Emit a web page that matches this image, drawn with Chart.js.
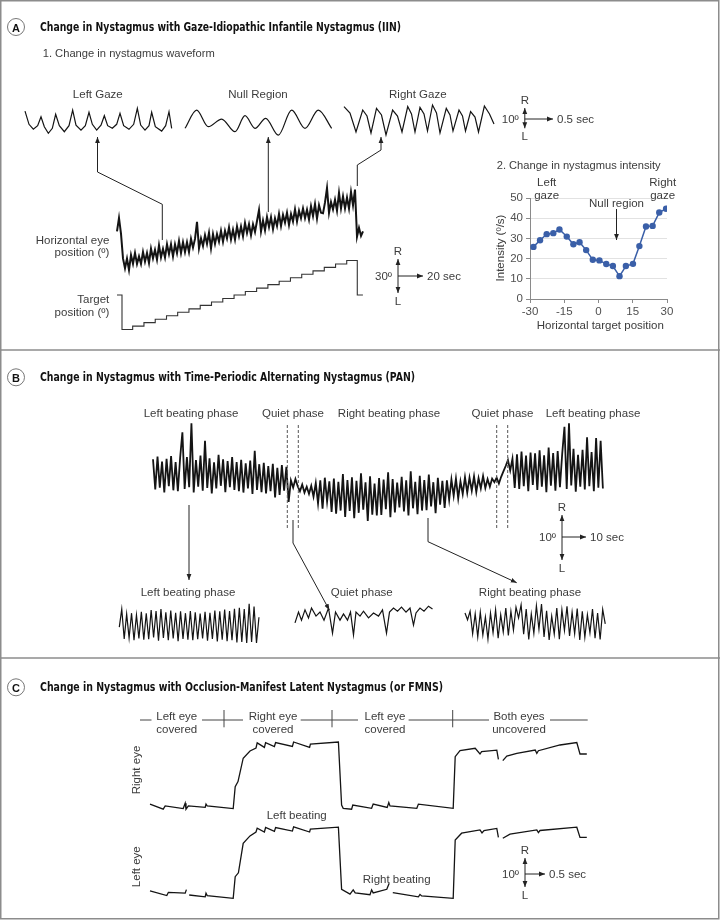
<!DOCTYPE html>
<html>
<head>
<meta charset="utf-8">
<title>Nystagmus waveforms</title>
<script src="https://cdn.jsdelivr.net/npm/chart.js@4.4.1/dist/chart.umd.min.js"></script>
<style>
  html, body { margin: 0; background: #fff; }
  #fig { position: relative; width: 720px; height: 920px; overflow: hidden; background: #fff; }
  #fig canvas { position: absolute; z-index: 1; }
  #overlay { position: absolute; left: 0; top: 0; z-index: 2; pointer-events: none; }
</style>
</head>
<body>
<div id="fig"><svg id="overlay" width="720" height="920"></svg></div>
<script>
// ---- Panel A.1: short waveform snippets (time s, eye position deg) ----
const leftGazeT = [0, 0.072, 0.15, 0.228, 0.288, 0.348, 0.42, 0.492, 0.552, 0.618, 0.708, 0.792, 0.858, 0.918, 1.008, 1.086, 1.152, 1.212, 1.29, 1.368, 1.428, 1.488, 1.572, 1.65, 1.71, 1.776, 1.872, 1.956, 2.022, 2.082, 2.16, 2.232, 2.28, 2.346, 2.46, 2.532, 2.592, 2.64];
const leftGazeV = [5.3, -1.3, -3.7, -2, 2.5, -2.5, -5.8, -3.3, 3.7, -2, -5, -2, 5.8, -1.7, -4.2, -2, 4.7, -1.3, -4.2, -1.7, 3, -2, -3.3, -1.3, 4.2, -2, -3.8, -1.3, 6.7, -1.7, -4.2, -2, 4.7, -2.5, -4.7, -2, 5, -3.3];
const nullRegionT = [0, 0.21, 0.42, 0.66, 0.9, 1.08, 1.26, 1.452, 1.68, 1.92, 2.16, 2.4, 2.64];
const nullRegionV = [-3.3, 5.8, -2.5, 1.3, -5, 3, -3.3, 1.7, -6.7, 5.8, -3.3, 5.8, -3.3];
const rightGazeT = [0, 0.108, 0.216, 0.337, 0.414, 0.486, 0.585, 0.675, 0.756, 0.875, 0.963, 1.044, 1.147, 1.215, 1.278, 1.368, 1.44, 1.503, 1.593, 1.665, 1.728, 1.841, 1.908, 1.962, 2.07, 2.133, 2.187, 2.279, 2.358, 2.421, 2.527, 2.619, 2.7];
const rightGazeV = [6.7, 3.5, -6, 5, 2, -6.5, 5.8, 2.5, -7.5, 5, 2, -6, 6.7, 3, -6, 6.3, 3, -5.5, 7.5, 3.5, -6.5, 5.8, 2.5, -5.5, 5, 2, -5.5, 4.2, 1.5, -6, 7, 3, -2];

// ---- Panel A: horizontal eye position (sampled, deg) and target steps ----
const eyeStartSec = 5.83;
const eyeStepSec = 1.667;
const eyePosition = [
  -2.0, 9.6, -4.0,
  -25.6, -34.1, -25.7, -35.6, -22.7, -30.2, -20.8, -30.3, -23.8, -30.3,
  -19.9, -28.4, -20.9, -29.5, -17.0, -25.5, -18.1, -26.6, -14.1, -24.6,
  -17.2, -24.7, -13.2, -21.8, -13.3, -23.8, -13.4, -20.9, -10.4, -20.9,
  -11.5, -20.0, -11.5, -20.1, -8.6, -16.1, -8.6, 6.3, -16.7, -8.2,
  -14.7, -5.3, -12.8, -3.3, -16.8, -4.4, -12.9, -4.4, -11.0, -1.5,
  -11.0, -1.5, -8.1, 1.4, -9.1, -0.6, -9.2, 2.3, -6.2, 2.2,
  -6.3, 5.2, -3.4, 4.1, -5.4, 4.1, -2.5, 7.0, 16.5, -2.1,
  7.4, -1.1, 10.4, 1.8, 10.3, -0.2, 9.3, 2.7, 13.2, 2.7,
  12.2, 5.6, 14.1, 3.6, 13.0, 6.5, 17.0, 6.5, 15.9, 9.4,
  17.9, 9.4, 16.8, 8.3, 19.8, 11.3, 21.7, 9.2, 20.7, 14.1,
  13.6, 23.1, 35.6, 14.0, 23.5, 17.0, 25.4, 15.9, 31.4, 17.9,
  28.3, 17.8, 27.3, 17.7, 32.2, 20.7, 34.2,
  -6.7, 1.0, -6.0, -2.0
];
const targetT = [5.8, 10.0, 18.9, 28.3, 37.7, 47.1, 56.4, 65.8, 75.2, 84.6, 94.0, 103.4, 112.8, 122.2, 131.6, 141.0, 150.4, 159.8, 169.2, 178.6, 188.0, 197.3, 206.1, 210.8];
const targetV = [0, -30, -27, -24, -21, -18, -15, -12, -9, -6, -3, 0, 3, 6, 9, 12, 15, 18, 21, 24, 27, 30, 0, 0];

// ---- Panel A.2: nystagmus intensity ----
const intensityX = [-28.5, -25.6, -22.7, -19.8, -17.1, -13.9, -11.0, -8.3, -5.4, -2.5, 0.4, 3.4, 6.3, 9.2, 12.0, 15.1, 17.9, 20.8, 23.7, 26.6, 29.6];
const intensityY = [25.8, 29.1, 32.1, 32.6, 34.4, 30.9, 27.1, 28.1, 24.2, 19.4, 19.1, 17.3, 16.3, 11.3, 16.3, 17.4, 26.2, 35.9, 36.2, 42.8, 44.7];
const intensityXTicks = [-30, -15, 0, 15, 30];
const intensityYTicks = [0, 10, 20, 30, 40, 50];

// ---- Panel B: PAN recording (sampled, deg) ----
const panStartSec = 1.25;
const panStepSec = 0.942;
const panTrace = [
  3.5, -3.2, 4.1, -2.8, 3.0, -3.9, 3.6, -2.5, 4.2, -3.4,
  2.9, -3.6, 3.8, 9.5, -3.1, 4.0, -2.7, 11.5, -3.9, 3.3,
  -2.6, 4.3, -3.5, 7.6, -2.9, 3.7, -4.1, 2.8, -3.0, 4.5,
  -2.4, 3.5, -3.8, 3.1, -2.7, 4.0, -3.3, 2.9, -3.6, 3.4,
  -3.9, 2.6, -3.0, 3.2, -4.2, 5.4, -3.3, 2.4, -3.8, 2.7,
  -4.1, 2.0, -3.6, 2.5, -5.0, 1.6, -4.4, 2.2, -3.5, 1.8,
  -6.0, -1.2, -2.8, -0.9, -2.5, -3.6, -2.1, -3.9, -2.6, -4.2,
  -2.4, -4.8, -1.8, -6.3, -1.2, -7.5, -0.6, -5.9, -1.4, -8.2,
  -0.8, -8.6, -1.5, -7.9, 0.2, -9.3, -1.1, -8.0, -0.5, -9.6,
  -1.3, -8.4, 0.4, -7.7, -1.6, -10.2, -0.3, -8.8, -1.9, -9.0,
  -0.7, -8.9, -1.0, -7.6, 0.6, -9.4, -0.9, -8.3, -1.7, -7.2,
  -0.4, -8.1, -1.2, -9.0, 0.8, -7.4, -1.5, -8.7, -0.2, -7.9,
  -1.1, -7.8, 0.1, -7.0, -1.6, -8.5, -0.6, -6.6, -1.3, -7.3,
  -1.2, -5.5, -1.0, -4.6, -0.8, -5.2, -1.4, -4.2, -0.5, -3.9,
  -0.6, -3.5, -0.3, -3.8, -0.7, -3.0, -0.2, -2.9, -0.9, -2.6,
  -0.8, -1.6, -0.6, -1.9, -0.4, 0.8, 2.0, 3.3, 1.0, 3.6,
  -2.9, 4.6, -3.1, 5.2, -2.5, 4.3, -3.6, 5.0, -2.2, 4.8,
  -3.3, 5.5, -2.6, 4.4, -3.8, 6.1, -2.4, 4.9, -3.5, 5.3,
  -2.7, 4.7, 10.7, -3.1, 11.5, -2.3, 5.8, -3.7, 4.5, -2.6,
  5.6, -3.2, 8.4, -2.5, 5.1, -3.6, 8.2, -2.8, 7.6, -3.0
];
// expanded phases
const leftBeatStartSec = 0.086;
const leftBeatStepSec = 0.049;
const leftBeat = [-0.7, 3.3, -3.3, 2.2, -3.1, 2.4, -3.6, 2.0, -3.2, 2.7, -3.5, 2.4, -3.4, 3.1, -3.0, 2.9, -3.7, 3.3, -3.1, 2.6, -3.6, 3.0, -3.2, 2.5, -3.8, 2.8, -3.3, 2.4, -3.5, 2.9, -3.6, 2.6, -3.4, 2.3, -3.2, 2.7, -3.7, 2.5, -3.3, 3.0, -3.9, 2.8, -3.5, 3.2, -3.8, 2.9, -3.6, 3.4, -4.1, 3.6, -4.0, 3.3, -4.2, 4.5, -4.0, 3.9, -4.2, 1.5];
const quietT = [0, 0.07, 0.13, 0.2, 0.27, 0.33, 0.42, 0.5, 0.58, 0.67, 0.75, 0.81, 0.9, 0.97, 1.05, 1.11, 1.17, 1.22, 1.3, 1.37, 1.47, 1.57, 1.67, 1.75, 1.83, 1.89, 1.97, 2.05, 2.13, 2.22, 2.3, 2.37, 2.42, 2.5, 2.58, 2.67, 2.75];
const quietV = [-1.3, 1.1, -0.7, 1.6, -0.2, 2.0, 0.2, 1.1, -0.7, 2.0, -3.6, 1.1, -0.7, 0.7, -0.7, 1.1, -4.0, 1.1, 0.2, 1.3, -0.2, 0.9, 0.2, 1.6, -3.6, 1.1, 2.0, 1.3, 2.2, 1.1, 2.0, -1.8, 0.9, 2.0, 1.3, 2.4, 1.8];
const rightBeatStartSec = 0.1;
const rightBeatStepSec = 0.051;
const rightBeat = [2.0, 0.5, 2.4, -2.6, 1.8, -3.3, 2.2, -2.9, 1.1, -3.8, 2.0, -2.4, 2.7, -3.6, 1.6, -2.2, 3.1, -3.0, 2.4, -1.8, 3.3, 0.9, 3.8, -2.7, 2.9, -3.9, 1.8, -2.5, 3.6, -1.6, 4.0, -3.3, 2.5, -4.0, 1.3, -2.7, 3.1, -3.8, 2.7, -1.9, 3.5, -3.1, 2.2, -2.6, 3.0, -4.0, 2.4, -3.4, 1.6, -2.4, 2.9, -3.6, 2.0, -3.9, 2.8, -0.4];

// ---- Panel C: occlusion sequence (time s, deg; null = gap) ----
const rightEyeT = [0, 0.33, 0.38, 0.83, 0.88, 0.9, 0.96, 1.38, 1.4, 1.43, 2.08, 2.13, 2.2, 2.33, 2.5, 2.65, 2.68, 2.86, 2.89, 3.11, 3.14, 3.56, 3.59, 3.99, 4.01, 4.71, 4.79, 4.83, 5.04, 5.07, 5.54, 5.58, 5.93, 5.97, 6.0, 6.67, 6.71, 7.58, 7.63, 7.75, 8.13, 8.25, 8.29, 8.67, 8.71, 8.76, 8.82, 8.92, 9.17, 9.63, 9.67, 9.71, 10.25, 10.67, 10.75, 10.92];
const rightEyeV = [1.3, -0.4, 0.7, -0.2, 1.6, -0.4, 0.7, 0.2, 1.3, 0.7, -0.2, 7.1, 8.8, 16.6, 19, 20, 21.7, 20.2, 21.8, 20.5, 21.8, 20.5, 22, 20.2, 21.3, 22, 1, -0.1, -0.4, 1, -0.1, 1.3, 0.2, 1.8, 0.7, -0.1, 1.3, -0.1, 17.1, 19.1, 19.9, 18, 18.8, 19.3, 16.2, null, 15.8, 17.3, 18.2, 19.3, 18.2, 19.1, 21, 21.8, 18, 18];
const leftEyeT = [0, 0.42, 0.46, 0.88, 0.91, 0.94, 0.98, 1.38, 1.4, 1.43, 2.08, 2.13, 2.21, 2.33, 2.5, 2.65, 2.68, 2.86, 2.89, 3.11, 3.14, 3.56, 3.59, 3.99, 4.01, 4.71, 4.79, 5.0, 5.08, 5.13, 5.5, 5.54, 5.58, 5.92, 5.98, 6.02, 6.07, 6.71, 6.75, 6.79, 7.58, 7.63, 7.79, 8.25, 8.3, 8.35, 8.67, 8.71, 8.76, 8.82, 9.0, 9.67, 9.71, 9.75, 10.67, 10.75, 10.92];
const leftEyeV = [1.4, -0.2, 0.9, 0.6, 1.8, null, 0, -0.6, 0.6, -0.2, -1.1, 6.1, 7.4, 17.2, 19.7, 21, 22.3, 21, 22.5, 21.2, 22.5, 21.3, 22.7, 21, 22, 22.6, 1.9, 0.3, 1.7, 0.7, 0.1, 1.7, 0.7, 1.9, 3.9, null, 0.8, -0.6, 0.2, -0.3, -1.1, 18.3, 20.6, 21.7, 20.7, 21.5, 22.2, 19.2, null, 18.9, 20.3, 21.7, 20.8, 21.5, 22.6, 19.2, 19.2];

// ---------------------------------------------------------------------
const FONT = '"Liberation Sans", Arial, sans-serif';
const NARROW = '"Liberation Sans Narrow", "DejaVu Sans Condensed", Arial, sans-serif';
const INK = '#141414';
const TEXT = '#3c3c3c';
const BLUE = '#3a5fa8';

Chart.defaults.font.family = FONT;

function addChart(box, config) {
  const canvas = document.createElement('canvas');
  canvas.width = box.w;
  canvas.height = box.h;
  Object.assign(canvas.style, { left: box.x + 'px', top: box.y + 'px', width: box.w + 'px', height: box.h + 'px' });
  document.getElementById('fig').appendChild(canvas);
  config.options = Object.assign({ responsive: false, maintainAspectRatio: false, animation: false, events: [] }, config.options);
  return new Chart(canvas, config);
}

const pairs = (xs, ys) => xs.map((x, i) => ({ x, y: ys[i] }));
const sampled = (start, step, ys) => ys.map((y, i) => ({ x: start + i * step, y }));

function trace(data, yAxisID, extra) {
  return Object.assign({
    data, yAxisID: yAxisID || 'y', borderColor: INK, borderWidth: 1.2,
    pointRadius: 0, tension: 0, spanGaps: false, fill: false
  }, extra || {});
}

// chart with hidden axes; box = where the plot sits, ranges map data units onto it
// (scale ids must start with "y" so Chart.js treats them as vertical axes)
function traceChart(box, xRange, yRanges, datasets) {
  const scales = { x: { type: 'linear', axis: 'x', display: false, min: xRange[0], max: xRange[1] } };
  Object.entries(yRanges).forEach(([id, r]) => {
    scales[id] = { type: 'linear', axis: 'y', display: false, min: r[0], max: r[1] };
  });
  return addChart(box, {
    type: 'line',
    data: { datasets },
    options: {
      layout: { padding: 0 },
      plugins: { legend: { display: false }, tooltip: { enabled: false } },
      scales
    }
  });
}

// ---- Panel A charts ----
const snippetY = { y: [-11.15, 10.85] };
traceChart({ x: 20, y: 100, w: 160, h: 44 }, [-0.09, 2.79], snippetY,
  [trace(pairs(leftGazeT, leftGazeV))]);
traceChart({ x: 180, y: 100, w: 160, h: 44 }, [-0.09, 2.79], snippetY,
  [trace(pairs(nullRegionT, nullRegionV), 'y', { cubicInterpolationMode: 'monotone' })]);
traceChart({ x: 339, y: 100, w: 160, h: 44 }, [-0.09, 2.79], { y: [-12, 10] },
  [trace(pairs(rightGazeT, rightGazeV))]);

traceChart({ x: 110, y: 180, w: 260, h: 160 }, [0, 216.7],
  { yEye: [-96.5, 42.6], yTarget: [-39.1, 100] },
  [
    trace(sampled(eyeStartSec, eyeStepSec, eyePosition), 'yEye', { borderWidth: 2 }),
    trace(pairs(targetT, targetV), 'yTarget', { stepped: 'before', borderWidth: 1.1, borderColor: '#333' })
  ]);

addChart({ x: 470, y: 185, w: 210, h: 150 }, {
  type: 'line',
  data: {
    datasets: [{
      data: pairs(intensityX, intensityY),
      borderColor: BLUE, backgroundColor: BLUE, borderWidth: 1.5,
      pointRadius: 3.2, pointBorderWidth: 0, tension: 0
    }]
  },
  options: {
    layout: { padding: { left: 0, right: 13, top: 13, bottom: 14 } },
    plugins: { legend: { display: false }, tooltip: { enabled: false } },
    scales: {
      x: {
        type: 'linear', min: intensityXTicks[0], max: intensityXTicks[intensityXTicks.length - 1],
        afterFit: s => { s.height = 22; },
        afterBuildTicks: s => { s.ticks = intensityXTicks.map(v => ({ value: v })); },
        ticks: { color: '#505050', font: { size: 11.5 }, padding: 2, maxRotation: 0, autoSkip: false },
        grid: { drawOnChartArea: false, tickLength: 4, tickColor: '#8a8a8a' },
        border: { color: '#8a8a8a' }
      },
      y: {
        min: intensityYTicks[0], max: intensityYTicks[intensityYTicks.length - 1],
        afterFit: s => { s.width = 60; },
        afterBuildTicks: s => { s.ticks = intensityYTicks.map(v => ({ value: v })); },
        ticks: { color: '#505050', font: { size: 11.5 }, padding: 3 },
        grid: { color: '#e2e2e2', tickLength: 4, tickColor: '#8a8a8a' },
        border: { color: '#8a8a8a' }
      }
    }
  }
});

// ---- Panel B charts ----
traceChart({ x: 150, y: 415, w: 460, h: 125 }, [0, 191.67], { y: [-14.44, 13.33] },
  [trace(sampled(panStartSec, panStepSec, panTrace), 'y', { borderWidth: 1.8 })]);
traceChart({ x: 115, y: 595, w: 150, h: 50 }, [0, 3.0], { y: [-4.67, 6.44] },
  [trace(sampled(leftBeatStartSec, leftBeatStepSec, leftBeat))]);
traceChart({ x: 290, y: 595, w: 150, h: 50 }, [-0.1, 2.9], { y: [-6.22, 4.89] },
  [trace(pairs(quietT, quietV))]);
traceChart({ x: 460, y: 595, w: 150, h: 50 }, [0, 3.0], { y: [-5.11, 6] },
  [trace(sampled(rightBeatStartSec, rightBeatStepSec, rightBeat))]);

// ---- Panel C chart ----
traceChart({ x: 140, y: 735, w: 460, h: 175 }, [-0.25, 11.25],
  { yRightEye: [-34, 24.33], yLeftEye: [-5, 53.33] },
  [
    trace(pairs(rightEyeT, rightEyeV), 'yRightEye', { borderWidth: 1.3 }),
    trace(pairs(leftEyeT, leftEyeV), 'yLeftEye', { borderWidth: 1.3 })
  ]);

// ---- overlay: text, frames, connectors, scale bars ----
const svg = document.getElementById('overlay');
const NS = 'http://www.w3.org/2000/svg';
svg.innerHTML = '<defs><marker id="ah" viewBox="0 0 6 6" refX="6" refY="3" markerWidth="6" markerHeight="6" ' +
  'markerUnits="userSpaceOnUse" orient="auto-start-reverse"><path d="M0,0.6 L6,3 L0,5.4 z" fill="#222"/></marker></defs>';

function svgEl(tag, attrs, content) {
  const node = document.createElementNS(NS, tag);
  Object.entries(attrs).forEach(([k, v]) => { if (v !== undefined && v !== null) node.setAttribute(k, v); });
  if (content !== undefined) node.textContent = content;
  svg.appendChild(node);
  return node;
}

function label(x, y, str, o = {}) {
  return svgEl('text', {
    x, y, 'text-anchor': o.anchor || 'middle', 'dominant-baseline': 'central',
    'font-size': o.size || 11.5, 'font-family': o.family || FONT, 'font-weight': o.weight || 'normal',
    fill: o.color || TEXT,
    transform: o.rotate ? `rotate(${o.rotate} ${x} ${y})` : undefined,
    textLength: o.len, lengthAdjust: o.len ? 'spacingAndGlyphs' : undefined
  }, str);
}

function path(points, o = {}) {
  return svgEl('polyline', {
    points: points.map(p => p.join(',')).join(' '), fill: 'none',
    stroke: o.color || '#222', 'stroke-width': o.width || 1, 'stroke-dasharray': o.dash,
    'marker-end': o.end ? 'url(#ah)' : undefined, 'marker-start': o.start ? 'url(#ah)' : undefined
  });
}

function badge(x, y, letter) {
  svgEl('circle', { cx: x, cy: y, r: 8.5, fill: '#fff', stroke: '#777', 'stroke-width': 1 });
  label(x, y + 0.5, letter, { weight: 'bold', size: 11, color: '#111' });
}

function heading(y, str, len) {
  label(40, y, str, { anchor: 'start', weight: 'bold', family: NARROW, size: 12, len, color: '#111' });
}

function scaleBar(s) {
  path([[s.x, s.top], [s.x, s.bottom]], { start: true, end: true });
  path([[s.x, s.mid], [s.right, s.mid]], { end: true });
  label(s.x, s.top - 8, 'R');
  label(s.x, s.bottom + 8, 'L');
  label(s.x - 6, s.mid, s.deg, { anchor: 'end' });
  label(s.right + 4, s.mid, s.time, { anchor: 'start' });
}

// frames
svgEl('rect', { x: 0.75, y: 0.75, width: 718, height: 918, fill: 'none', stroke: '#8c8c8c', 'stroke-width': 1.5 });
path([[0, 350], [720, 350]], { color: '#8c8c8c', width: 1.5 });
path([[0, 658], [720, 658]], { color: '#8c8c8c', width: 1.5 });

// Panel A
badge(16, 27, 'A');
heading(26.7, 'Change in Nystagmus with Gaze-Idiopathic Infantile Nystagmus (IIN)', 361);
label(42.7, 53.3, '1. Change in nystagmus waveform', { anchor: 'start', len: 172 });
label(97.8, 94.3, 'Left Gaze');
label(258, 94.3, 'Null Region');
label(417.8, 94.3, 'Right Gaze');
path([[162.3, 240], [162.3, 204.3], [97.5, 172], [97.5, 137]], { end: true });
path([[268.3, 212], [268.3, 137]], { end: true });
path([[357.3, 186], [357.3, 165], [381, 150], [381, 137]], { end: true });
scaleBar({ x: 524.8, top: 108, bottom: 128.3, mid: 119, right: 553, deg: '10º', time: '0.5 sec' });

label(109.3, 240, 'Horizontal eye', { anchor: 'end' });
label(109.3, 252, 'position (º)', { anchor: 'end' });
label(109.3, 299, 'Target', { anchor: 'end' });
label(109.3, 312.3, 'position (º)', { anchor: 'end' });
scaleBar({ x: 398, top: 259, bottom: 293, mid: 276, right: 423, deg: '30º', time: '20 sec' });

label(496.7, 165, '2. Change in nystagmus intensity', { anchor: 'start', len: 164 });
label(546.7, 182, 'Left');
label(546.7, 195, 'gaze');
label(662.7, 182, 'Right');
label(662.7, 195, 'gaze');
label(616.5, 202.7, 'Null region');
path([[616.5, 209], [616.5, 240]], { end: true });
label(500, 248, 'Intensity (º/s)', { rotate: -90 });
label(600.3, 325, 'Horizontal target position');

// Panel B
badge(16, 377.3, 'B');
heading(377.3, 'Change in Nystagmus with Time-Periodic Alternating Nystagmus (PAN)', 375);
label(191, 412.7, 'Left beating phase');
label(293, 412.7, 'Quiet phase');
label(389, 412.7, 'Right beating phase');
label(502.5, 412.7, 'Quiet phase');
label(593, 412.7, 'Left beating phase');
[287.3, 298.3, 496.7, 507.7].forEach(x => path([[x, 425], [x, 530]], { dash: '3 2', color: '#555' }));
path([[189, 505], [189, 580]], { end: true });
path([[293, 520], [293, 543], [329.3, 610]], { end: true });
path([[428, 518], [428, 541.7], [516.7, 582.7]], { end: true });
scaleBar({ x: 562, top: 515, bottom: 560, mid: 537, right: 586, deg: '10º', time: '10 sec' });
label(188, 591.7, 'Left beating phase');
label(361.7, 591.7, 'Quiet phase');
label(530, 591.7, 'Right beating phase');

// Panel C
badge(16, 687.3, 'C');
heading(687.3, 'Change in Nystagmus with Occlusion-Manifest Latent Nystagmus (or FMNS)', 403);
[[176.8, 'Left eye', 'covered'], [273, 'Right eye', 'covered'], [385, 'Left eye', 'covered'], [519, 'Both eyes', 'uncovered']]
  .forEach(([x, a, b]) => { label(x, 716, a); label(x, 729.3, b); });
[[140, 151.5], [202, 243], [300.7, 358], [408.6, 489], [550, 587.7]]
  .forEach(([a, b]) => path([[a, 720], [b, 720]], { color: '#444' }));
[224, 332, 452.7].forEach(x => path([[x, 710], [x, 727.3]], { color: '#444' }));
label(136.4, 770, 'Right eye', { rotate: -90 });
label(136.4, 866.7, 'Left eye', { rotate: -90 });
label(296.7, 815, 'Left beating');
label(396.7, 879.3, 'Right beating');
scaleBar({ x: 525, top: 858, bottom: 887, mid: 874, right: 545, deg: '10º', time: '0.5 sec' });
</script>
</body>
</html>
